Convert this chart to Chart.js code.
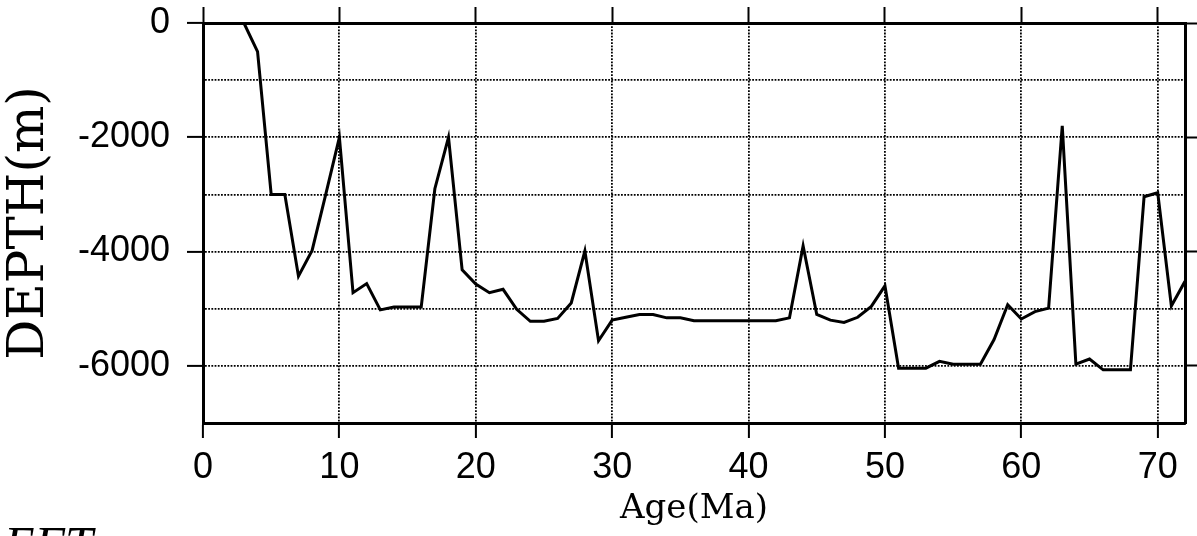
<!DOCTYPE html>
<html>
<head>
<meta charset="utf-8">
<script src="https://cdn.jsdelivr.net/npm/chart.js@4"></script>
<style>
  html, body { margin: 0; padding: 0; background: #fff; }
  #c { display: block; }
</style>
</head>
<body>
<canvas id="c" width="1197" height="536"></canvas>
<script>
// ---- data ----
const ages = [0,1,2,3,4,5,6,7,8,9,10,11,12,13,14,15,16,17,18,19,20,21,22,23,24,25,26,27,28,29,30,31,32,33,34,35,36,37,38,39,40,41,42,43,44,45,46,47,48,49,50,51,52,53,54,55,56,57,58,59,60,61,62,63,64,65,66,67,68,69,70,71,72];
const depths = [0,0,0,0,-500,-3000,-3000,-4430,-3980,-3000,-2000,-4720,-4560,-5020,-4970,-4970,-4970,-2900,-2000,-4320,-4570,-4720,-4660,-5010,-5220,-5220,-5170,-4900,-3990,-5560,-5200,-5150,-5100,-5100,-5160,-5160,-5210,-5210,-5210,-5210,-5210,-5210,-5210,-5160,-3900,-5100,-5200,-5240,-5150,-4960,-4600,-6040,-6040,-6040,-5920,-5970,-5970,-5970,-5540,-4930,-5180,-5050,-4990,-1800,-5970,-5880,-6070,-6070,-6070,-3040,-2970,-4950,-4520];
const xTicks = [0,10,20,30,40,50,60,70];
const yLabelValues = [0,-2000,-4000,-6000];
const xTitle = 'Age(Ma)';
const yTitle = 'DEPTH(m)';
const cornerText = 'EFT';

const tickFont = { family: '"Liberation Sans", Arial, sans-serif', size: 36 };
const serif = '"DejaVu Serif", serif';
const gridDash = [1.8, 1.4];

const cornerPlugin = {
  id: 'corner',
  afterDraw(chart) {
    const ctx = chart.ctx;
    ctx.save();
    ctx.fillStyle = '#000';
    ctx.font = 'italic 50px "Liberation Serif", serif';
    ctx.textBaseline = 'alphabetic';
    ctx.textAlign = 'left';
    ctx.fillText(cornerText, 4, 561);
    ctx.restore();
  }
};

const noPad = s => { s.paddingTop = 0; s.paddingBottom = 0; s.paddingLeft = 0; s.paddingRight = 0; };

new Chart(document.getElementById('c'), {
  type: 'line',
  data: {
    datasets: [{
      data: ages.map((a, i) => ({ x: a, y: depths[i] })),
      borderColor: '#000',
      borderWidth: 3,
      pointRadius: 0,
      tension: 0,
      fill: false
    }]
  },
  options: {
    responsive: false,
    animation: false,
    devicePixelRatio: 1,
    layout: { padding: 0 },
    plugins: { legend: { display: false }, tooltip: { enabled: false }, title: { display: false } },
    scales: {
      x: {
        type: 'linear', position: 'bottom', min: 0, max: 72,
        afterBuildTicks: s => { s.ticks = xTicks.map(v => ({ value: v })); },
        afterFit: s => { s.height = 113; noPad(s); },
        grid: { color: '#000', lineWidth: 1.8, tickLength: 15, tickWidth: 2, tickColor: '#000' },
        border: { display: true, color: '#000', width: 3, dash: gridDash },
        ticks: { color: '#000', font: tickFont, padding: 8, maxRotation: 0, autoSkip: false,
                 callback: v => String(v) },
        title: { display: true, text: xTitle, color: '#000', font: { family: serif, size: 34 },
                 padding: { top: 0, bottom: 6 } }
      },
      x2: {
        type: 'linear', position: 'top', min: 0, max: 72,
        afterBuildTicks: s => { s.ticks = xTicks.map(v => ({ value: v })); },
        afterFit: s => { s.height = 23; noPad(s); },
        grid: { drawOnChartArea: false, color: '#000', tickLength: 16, tickWidth: 2 },
        border: { display: true, color: '#000', width: 3 },
        ticks: { display: false }
      },
      y: {
        type: 'linear', position: 'left', min: -7000, max: 0,
        afterFit: s => { s.width = 203; noPad(s); },
        grid: { color: '#000', lineWidth: 1.8, tickLength: 16, tickWidth: 2,
                tickColor: c => (c.tick && yLabelValues.includes(c.tick.value)) ? '#000' : 'rgba(0,0,0,0)' },
        border: { display: true, color: '#000', width: 3, dash: gridDash },
        ticks: { stepSize: 1000, color: '#000', font: tickFont, padding: 17,
                 callback: v => yLabelValues.includes(v) ? String(v) : '' },
        title: { display: true, text: yTitle, color: '#000', font: { family: serif, size: 50 },
                 padding: { top: 0, bottom: 0 } }
      },
      y2: {
        type: 'linear', position: 'right', min: -7000, max: 0,
        afterBuildTicks: s => { s.ticks = yLabelValues.map(v => ({ value: v })); },
        afterFit: s => { s.width = 12; noPad(s); },
        grid: { drawOnChartArea: false, color: '#000', tickLength: 16, tickWidth: 2 },
        border: { display: true, color: '#000', width: 3 },
        ticks: { display: false }
      }
    }
  },
  plugins: [cornerPlugin]
});
</script>
</body>
</html>
